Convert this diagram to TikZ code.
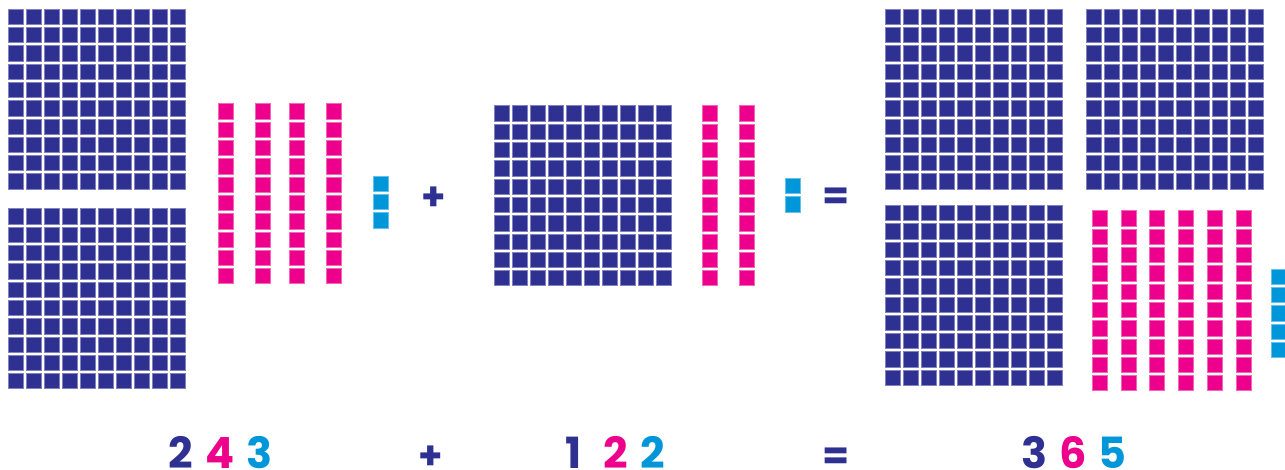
\documentclass[tikz,border=0pt]{standalone}
\usepackage{fontspec}
\setmainfont{Poppins}
\definecolor{navy}{HTML}{2E3192}
\definecolor{mag}{HTML}{EC008C}
\definecolor{cyanb}{HTML}{0096DA}
\tikzset{
  unitsq/.style={line width=0.5pt},
  hsq/.style={unitsq, fill=navy, draw=navy!60!white},
  tsq/.style={unitsq, fill=mag, draw=mag!60!white},
  osq/.style={unitsq, fill=cyanb, draw=cyanb!60!white},
  digit/.style={anchor=base, inner sep=0pt, text depth=0pt, font=\fontsize{43}{43}\selectfont\bfseries},
  op/.style={inner sep=0pt, text=navy, font=\fontsize{39}{39}\selectfont\bfseries}
}
\newcommand\hundredblock[2]{%
  \foreach \i in {0,...,9}{\foreach \j in {0,...,9}{%
    \path[hsq] (#1+\i*18,#2+\j*18.3) rectangle ++(15,15.3);}}}
\newcommand\tenrod[2]{%
  \foreach \j in {0,...,9}{\path[tsq] (#1,#2+\j*18.3) rectangle ++(15,15.3);}}
\newcommand\unitcol[3]{%
  \foreach \j in {1,...,#3}{\path[osq] (#1,#2+\j*18.3-18.3) rectangle ++(15,15.3);}}
\begin{document}
\begin{tikzpicture}[x=1pt,y=-1pt]
\useasboundingbox (0,0) rectangle (1285,470);
% 243
\hundredblock{8.3}{9}
\hundredblock{8.3}{208.7}
\tenrod{218.7}{103.7}
\tenrod{255.7}{103.7}
\tenrod{289.3}{103.7}
\tenrod{326.7}{103.7}
\unitcol{373}{176}{3}
% 122
\hundredblock{494.3}{105.7}
\tenrod{702.3}{105.7}
\tenrod{739.3}{105.7}
\unitcol{785.3}{178.3}{2}
% 365
\hundredblock{885.3}{9}
\hundredblock{1086.7}{9}
\hundredblock{885.3}{205.3}
\foreach \x in {1092,1121,1149.7,1178.7,1207,1236}{\tenrod{\x}{210.7}}
\unitcol{1271}{269}{5}
% operators
\node[op] (plusA) at (433.7,198.8) {+};
\node[op] (eqA) at (836.5,199.2) {=};
\node[op] (plusB) at (431.2,457.5) {+};
\node[op] (eqB) at (836.5,458.5) {=};
% numbers
\node[digit,text=navy]  (n1) at (180.7,468) {2};
\node[digit,text=mag]   (n2) at (219.7,468) {4};
\node[digit,text=cyanb] (n3) at (259.1,468) {3};
\node[digit,text=navy]  (n4) at (573.5,468) {1};
\node[digit,text=mag]   (n5) at (615.8,468) {2};
\node[digit,text=cyanb] (n6) at (653.2,468) {2};
\node[digit,text=navy]  (n7) at (1034.7,468) {3};
\node[digit,text=mag]   (n8) at (1072.7,468) {6};
\node[digit,text=cyanb] (n9) at (1112.7,468) {5};
\end{tikzpicture}
\end{document}
